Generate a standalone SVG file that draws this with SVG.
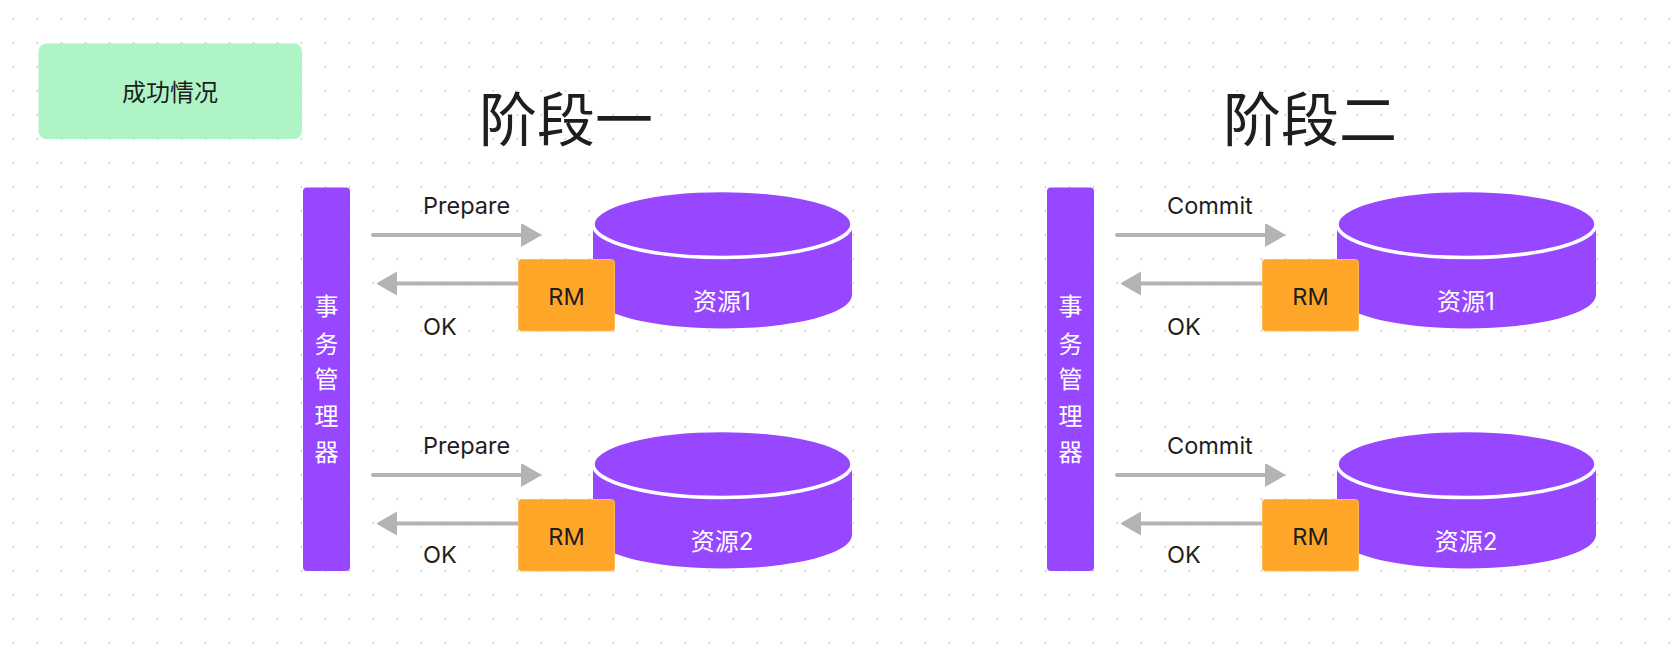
<svg xmlns="http://www.w3.org/2000/svg" width="1673" height="654" viewBox="0 0 1673 654">
<style>
.t{font-family:Inter,"Noto Sans","Noto Sans CJK SC",sans-serif;font-size:23.5px;fill:#1e1e1e}
.c{font-size:24px}
.w{fill:#ffffff}
.mid{text-anchor:middle;dominant-baseline:central}
.title{font-family:"Noto Sans CJK SC","Noto Sans",sans-serif;font-size:58px;fill:#1e1e1e;text-anchor:middle;dominant-baseline:central}
.bar{fill:#9747FF}
.rm{fill:#FFA629;stroke:#FFB84F;stroke-width:1}
.cyl{fill:#9747FF}
.cyltop{fill:#9747FF;stroke:#ffffff;stroke-width:3.5}
.arr{stroke:#b3b3b3;stroke-width:4;stroke-linecap:round;fill:none;marker-end:url(#ah)}
</style>
<defs>
<pattern id="dots" patternUnits="userSpaceOnUse" x="1.4" y="7" width="24" height="24">
<circle cx="12" cy="12" r="1.15" fill="#d9d9d9"/>
</pattern>
<marker id="ah" markerUnits="userSpaceOnUse" markerWidth="22" markerHeight="25" refX="0" refY="11.5" orient="auto" viewBox="0 0 22 25">
<path d="M0,0 L20,11.5 L0,23 Z" fill="#b3b3b3" stroke="#b3b3b3" stroke-width="1" stroke-linejoin="round"/>
</marker>
<g id="cylShape">
<path class="cyl" d="M0,0 L0,71 A129.5 33.5 0 0 0 259,71 L259,0 Z"/>
<ellipse class="cyltop" cx="129.5" cy="0" rx="129.5" ry="33.5"/>
</g>
</defs>
<rect width="1673" height="654" fill="#ffffff"/>
<rect width="1673" height="654" fill="url(#dots)"/>

<g id="legend">
<rect x="38.5" y="43.5" width="263.5" height="95.5" rx="8" fill="#AFF4C6"/>
<text class="t c mid" x="170" y="92">成功情况</text>
</g>

<g id="title1"><text class="title" x="566" y="116">阶段一</text></g>
<g id="title2"><text class="title" x="1310" y="116">阶段二</text></g>

<g id="tm1">
<rect class="bar" x="303" y="187.5" width="47" height="383.5" rx="4"/>
<text class="t c w mid" x="326.5" y="306.5">事</text>
<text class="t c w mid" x="326.5" y="344.5">务</text>
<text class="t c w mid" x="326.5" y="379.5">管</text>
<text class="t c w mid" x="326.5" y="416">理</text>
<text class="t c w mid" x="326.5" y="452.5">器</text>
</g>
<g id="tm2">
<rect class="bar" x="1047" y="187.5" width="47" height="383.5" rx="4"/>
<text class="t c w mid" x="1070.5" y="306.5">事</text>
<text class="t c w mid" x="1070.5" y="344.5">务</text>
<text class="t c w mid" x="1070.5" y="379.5">管</text>
<text class="t c w mid" x="1070.5" y="416">理</text>
<text class="t c w mid" x="1070.5" y="452.5">器</text>
</g>

<g id="res1a"><use href="#cylShape" x="593" y="224"/><text class="t c w mid" x="722" y="301">资源1</text></g>
<g id="res2a"><use href="#cylShape" x="593" y="464"/><text class="t c w mid" x="722" y="541">资源2</text></g>
<g id="res1b"><use href="#cylShape" x="1337" y="224"/><text class="t c w mid" x="1466" y="301">资源1</text></g>
<g id="res2b"><use href="#cylShape" x="1337" y="464"/><text class="t c w mid" x="1466" y="541">资源2</text></g>

<g id="connectors">
<path class="arr" d="M373,235 L521,235"/>
<path class="arr" d="M530,283.5 L397,283.5"/>
<path class="arr" d="M373,475 L521,475"/>
<path class="arr" d="M530,523.5 L397,523.5"/>
<path class="arr" d="M1117,235 L1265,235"/>
<path class="arr" d="M1274,283.5 L1141,283.5"/>
<path class="arr" d="M1117,475 L1265,475"/>
<path class="arr" d="M1274,523.5 L1141,523.5"/>
<text class="t" x="423" y="214">Prepare</text>
<text class="t" x="423" y="335">OK</text>
<text class="t" x="423" y="454">Prepare</text>
<text class="t" x="423" y="563">OK</text>
<text class="t" x="1167" y="214">Commit</text>
<text class="t" x="1167" y="335">OK</text>
<text class="t" x="1167" y="454">Commit</text>
<text class="t" x="1167" y="563">OK</text>
</g>

<g id="rm1a"><rect class="rm" x="518.5" y="259.5" width="96" height="71.5" rx="3"/><text class="t mid" x="566.5" y="296">RM</text></g>
<g id="rm2a"><rect class="rm" x="518.5" y="499.5" width="96" height="71.5" rx="3"/><text class="t mid" x="566.5" y="536">RM</text></g>
<g id="rm1b"><rect class="rm" x="1262.5" y="259.5" width="96" height="71.5" rx="3"/><text class="t mid" x="1310.5" y="296">RM</text></g>
<g id="rm2b"><rect class="rm" x="1262.5" y="499.5" width="96" height="71.5" rx="3"/><text class="t mid" x="1310.5" y="536">RM</text></g>
</svg>
